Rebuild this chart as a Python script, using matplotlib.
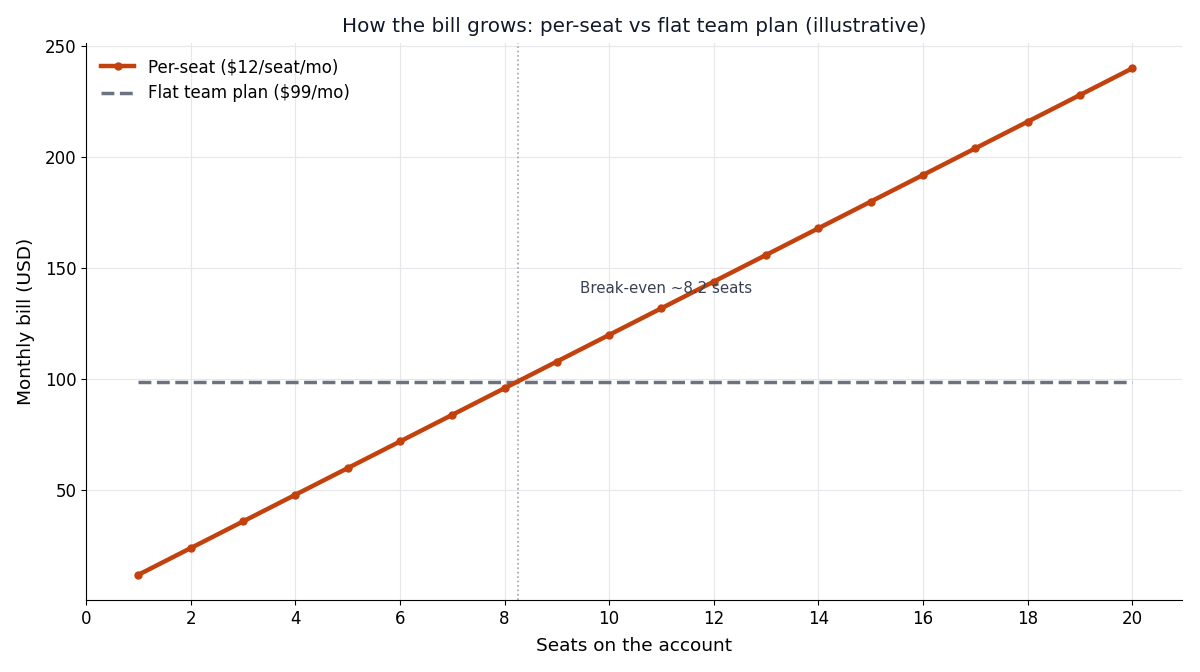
import numpy as np
import matplotlib
matplotlib.use("Agg")
import matplotlib.pyplot as plt

seats = [1, 2, 3, 4, 5, 6, 7, 8, 9, 10, 11, 12, 13, 14, 15, 16, 17, 18, 19, 20]
per_seat_bill = [12, 24, 36, 48, 60, 72, 84, 96, 108, 120,
                 132, 144, 156, 168, 180, 192, 204, 216, 228, 240]
flat_bill = [99] * len(seats)
break_even = 8.25
break_even_label = "Break-even ~8.2 seats"

fig, ax = plt.subplots(figsize=(12, 6.72), dpi=100)

ax.plot(seats, per_seat_bill, color="#c2410c", lw=3.2, marker="o", ms=5,
        label="Per-seat ($12/seat/mo)", zorder=3)
ax.plot(seats, flat_bill, color="#6b7280", lw=2.5, ls="--",
        label="Flat team plan ($99/mo)", zorder=2)
ax.axvline(break_even, color="#9ca3af", lw=1.2, ls=":", zorder=1)
ax.text(break_even + 1.2, 141, break_even_label, color="#374151",
        fontsize=10.8, ha="left", va="center")

ax.set_xlim(left=0)
ax.set_xticks(range(0, 21, 2))
ax.set_yticks([50, 100, 150, 200, 250])
ax.tick_params(labelsize=12)
ax.grid(True, color="#e5e7eb", lw=0.8)
ax.set_axisbelow(True)
for s in ("top", "right"):
    ax.spines[s].set_visible(False)

ax.set_xlabel("Seats on the account", fontsize=13.3, labelpad=6.5)
ax.set_ylabel("Monthly bill (USD)", fontsize=13.3, labelpad=7)
ax.set_title("How the bill grows: per-seat vs flat team plan (illustrative)",
             fontsize=14.4, color="#111827", pad=8)
ax.legend(loc="upper left", frameon=False, fontsize=12)

fig.subplots_adjust(left=0.0717, right=0.985, top=0.936, bottom=0.107)
fig.savefig("out.png", dpi=100)
